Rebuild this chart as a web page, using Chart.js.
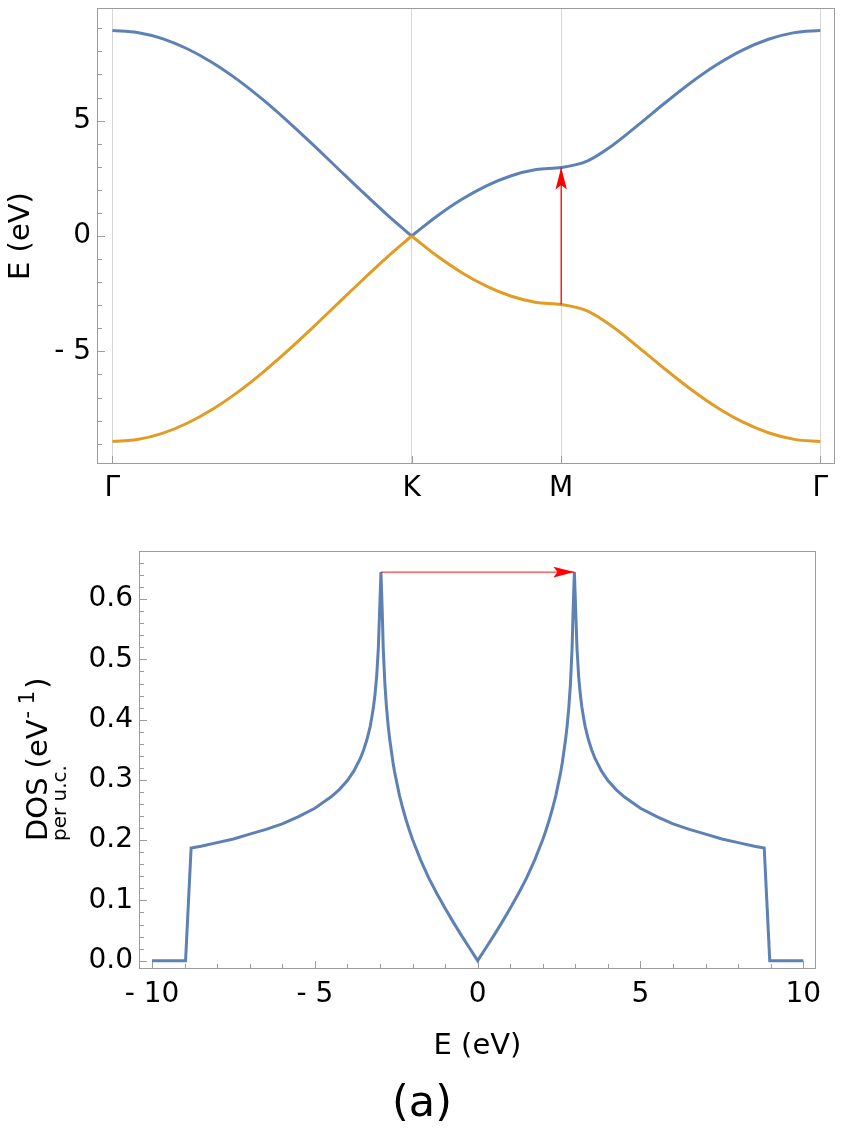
<!DOCTYPE html>
<html>
<head>
<meta charset="utf-8">
<title>Graphene bands and DOS</title>
<script src="https://cdn.jsdelivr.net/npm/chart.js@4.4.1/dist/chart.umd.min.js"></script>
<style>
    html, body { margin: 0; padding: 0; background: #fff; }
    #page { position: relative; width: 844px; height: 1132px; }
    #bandWrap { position: absolute; left: 0; top: 0; width: 844px; height: 530px; }
    #dosWrap { position: absolute; left: 0; top: 530px; width: 844px; height: 602px; }
</style>
</head>
<body>
<div id="page">
    <div id="bandWrap"><canvas id="bandChart" width="844" height="530"></canvas></div>
    <div id="dosWrap"><canvas id="dosChart" width="844" height="602"></canvas></div>
</div>
<script>
/* Data */

// high symmetry points along the path (path length, Γ = 0)
const kPointPos = [0, 1.3333, 2.0, 3.1547];
const kPointLabels = ["Γ", "K", "M", "Γ"];

// Γ -> K
const kGammaK = [0, 0.1111, 0.2222, 0.3333, 0.4444, 0.5556, 0.6667, 0.7778, 0.8889, 1.0, 1.1111, 1.2222, 1.3333];
const condGammaK = [8.91, 8.82, 8.552, 8.114, 7.52, 6.788, 5.94, 5.002, 4.002, 2.97, 1.939, 0.938, 0];
const valGammaK = [-8.91, -8.82, -8.552, -8.114, -7.52, -6.788, -5.94, -5.002, -4.002, -2.97, -1.939, -0.938, 0];

// K -> M -> Γ
const kKMGamma = [1.3333, 1.4444, 1.5556, 1.6667, 1.7778, 1.8889, 2.0, 2.1155, 2.2309, 2.3464, 2.4619, 2.5774, 2.6928, 2.8083, 2.9238, 3.0392, 3.1547];
const condKMGamma = [0, 0.848, 1.58, 2.174, 2.612, 2.88, 2.97, 3.248, 3.945, 4.834, 5.762, 6.641, 7.417, 8.053, 8.524, 8.813, 8.91];
const valKMGamma = [0, -0.848, -1.58, -2.174, -2.612, -2.88, -2.97, -3.248, -3.945, -4.834, -5.762, -6.641, -7.417, -8.053, -8.524, -8.813, -8.91];

// transition arrow at M
const bandArrowK = [2.0, 2.0];
const bandArrowE = [-2.97, 2.97];

const bandYTicks = [-5, 0, 5];

// density of states
const dosEnergy = [-10, -8.97, -8.8, -8.5, -8, -7.5, -7, -6.5, -6, -5.5, -5, -4.5, -4.25, -4, -3.8, -3.6, -3.5, -3.4,
    -3.3, -3.25, -3.2, -3.15, -3.1, -3.05, -2.97,
    -2.93, -2.9, -2.85, -2.8, -2.75, -2.7, -2.6, -2.55, -2.4, -2.3, -2.2, -2.1, -2, -1.75, -1.5, -1.25, -1, -0.75, -0.5, -0.25, 0,
    0.25, 0.5, 0.75, 1, 1.25, 1.5, 1.75, 2, 2.1, 2.2, 2.3, 2.4, 2.55, 2.6, 2.7, 2.75, 2.8, 2.85, 2.9, 2.93, 2.97,
    3.05, 3.1, 3.15, 3.2, 3.25, 3.3, 3.4, 3.5, 3.6, 3.8, 4, 4.25, 4.5, 5, 5.5, 6, 6.5, 7, 7.5, 8, 8.5, 8.8, 8.97, 10];
const dosValue = [0, 0, 0.187, 0.190, 0.196, 0.202, 0.210, 0.218, 0.227, 0.239, 0.253, 0.272, 0.284, 0.299, 0.315, 0.336, 0.350, 0.367,
    0.389, 0.404, 0.421, 0.443, 0.473, 0.519, 0.645,
    0.579, 0.519, 0.460, 0.421, 0.391, 0.367, 0.329, 0.313, 0.274, 0.253, 0.234, 0.217, 0.201, 0.167, 0.137, 0.111, 0.087, 0.064, 0.042, 0.021, 0,
    0.021, 0.042, 0.064, 0.087, 0.111, 0.137, 0.167, 0.201, 0.217, 0.234, 0.253, 0.274, 0.313, 0.329, 0.367, 0.391, 0.421, 0.460, 0.519, 0.579, 0.645,
    0.519, 0.473, 0.443, 0.421, 0.404, 0.389, 0.367, 0.350, 0.336, 0.315, 0.299, 0.284, 0.272, 0.253, 0.239, 0.227, 0.218, 0.210, 0.202, 0.196, 0.190, 0.187, 0, 0];

const dosArrowE = [-2.97, 2.97];
const dosArrowV = [0.645, 0.645];

const dosXTicks = [-10, -5, 0, 5, 10];
const dosYTicks = [0, 0.1, 0.2, 0.3, 0.4, 0.5, 0.6];

/* helpers */

const BLUE = "#5e81b5";
const ORANGE = "#e19c24";
const RED = "#ff0000";
const FRAME = "#9c9c9c";

const toPoints = (xs, ys) => xs.map((x, i) => ({ x: x, y: ys[i] }));
const range = (from, to, step) => {
    const out = [];
    for (let v = from; v <= to + step / 2; v += step) out.push(+v.toFixed(4));
    return out;
};
const minusLabel = v => (v < 0 ? "- " + Math.abs(v) : String(v));

// stop chart.js from reserving room for half labels at the axis ends
const noEdgePadding = scale => {
    scale.paddingTop = 0;
    scale.paddingBottom = 0;
    scale.paddingLeft = 0;
    scale.paddingRight = 0;
};

Chart.defaults.font.family = "'DejaVu Sans', sans-serif";
Chart.defaults.color = "#000";

/* frame with inward ticks, Mathematica style */
const frameTicks = {
    id: "frameTicks",
    beforeDatasetsDraw(chart, args, opts) {
        const { ctx, chartArea: area, scales } = chart;
        ctx.save();
        ctx.strokeStyle = FRAME;
        ctx.lineWidth = 1;
        const yTick = (v, len) => {
            const y = Math.round(scales.y.getPixelForValue(v)) + 0.5;
            ctx.beginPath();
            ctx.moveTo(area.left, y);
            ctx.lineTo(area.left + len, y);
            ctx.stroke();
        };
        const xTick = (v, len) => {
            const x = Math.round(scales.x.getPixelForValue(v)) + 0.5;
            ctx.beginPath();
            ctx.moveTo(x, area.bottom);
            ctx.lineTo(x, area.bottom - len);
            ctx.stroke();
        };
        opts.yMinor.forEach(v => yTick(v, 5));
        opts.yMajor.forEach(v => yTick(v, 8));
        opts.xMinor.forEach(v => xTick(v, 5));
        opts.xMajor.forEach(v => xTick(v, 8));
        ctx.strokeRect(Math.round(area.left) + 0.5, Math.round(area.top) + 0.5,
            Math.round(area.width) - 1, Math.round(area.height) - 1);
        ctx.restore();
    }
};

/* arrow head at the end of the first dataset */
const arrowHead = {
    id: "arrowHead",
    afterDatasetsDraw(chart, args, opts) {
        const { ctx, scales } = chart;
        const pts = chart.data.datasets[0].data;
        const a = pts[0], b = pts[pts.length - 1];
        const x0 = scales.x.getPixelForValue(a.x), y0 = scales.y.getPixelForValue(a.y);
        const x1 = scales.x.getPixelForValue(b.x), y1 = scales.y.getPixelForValue(b.y);
        const ang = Math.atan2(y1 - y0, x1 - x0);
        const len = opts.length, half = opts.half;
        ctx.save();
        ctx.translate(x1, y1);
        ctx.rotate(ang);
        ctx.fillStyle = RED;
        ctx.beginPath();
        ctx.moveTo(0, 0);
        ctx.lineTo(-len, -half);
        ctx.lineTo(-len * 0.8, 0);
        ctx.lineTo(-len, half);
        ctx.closePath();
        ctx.fill();
        ctx.restore();
    }
};

/* band structure */

new Chart(document.querySelector("#bandChart"), {
    type: "line",
    data: {
        datasets: [
            {
                data: toPoints(bandArrowK, bandArrowE),
                borderColor: RED,
                borderWidth: 1.3,
                pointRadius: 0
            },
            {
                data: toPoints(kGammaK, valGammaK),
                borderColor: ORANGE,
                borderWidth: 3,
                pointRadius: 0,
                cubicInterpolationMode: "monotone"
            },
            {
                data: toPoints(kKMGamma, valKMGamma),
                borderColor: ORANGE,
                borderWidth: 3,
                pointRadius: 0,
                cubicInterpolationMode: "monotone"
            },
            {
                data: toPoints(kGammaK, condGammaK),
                borderColor: BLUE,
                borderWidth: 3,
                pointRadius: 0,
                cubicInterpolationMode: "monotone"
            },
            {
                data: toPoints(kKMGamma, condKMGamma),
                borderColor: BLUE,
                borderWidth: 3,
                pointRadius: 0,
                cubicInterpolationMode: "monotone"
            }
        ]
    },
    options: {
        responsive: false,
        animation: false,
        layout: { padding: { left: 0, right: 9, top: 8, bottom: 0 } },
        plugins: {
            legend: { display: false },
            tooltip: { enabled: false },
            frameTicks: {
                yMajor: bandYTicks,
                yMinor: range(-9, 9, 1).filter(v => v % 5 !== 0),
                xMajor: kPointPos,
                xMinor: []
            },
            arrowHead: { length: 22, half: 5.7 }
        },
        scales: {
            x: {
                type: "linear",
                min: -0.0687,
                max: 3.2202,
                afterBuildTicks: scale => { scale.ticks = kPointPos.map(v => ({ value: v })); },
                afterFit: scale => { scale.height = 66; noEdgePadding(scale); },
                ticks: {
                    autoSkip: false,
                    maxRotation: 0,
                    padding: 8,
                    font: { size: 28 },
                    callback: (value, index) => kPointLabels[index]
                },
                grid: { color: "#d6d6d6", lineWidth: 1, drawTicks: false },
                border: { display: false }
            },
            y: {
                type: "linear",
                min: -9.88,
                max: 9.88,
                afterBuildTicks: scale => { scale.ticks = bandYTicks.map(v => ({ value: v })); },
                afterFit: scale => { scale.width = 97; noEdgePadding(scale); },
                ticks: {
                    padding: 6,
                    font: { size: 28 },
                    callback: value => minusLabel(value)
                },
                grid: { display: false, drawTicks: false },
                border: { display: false },
                title: {
                    display: true,
                    text: "E (eV)",
                    font: { size: 29 },
                    padding: { top: 4, bottom: 0 }
                }
            }
        }
    },
    plugins: [frameTicks, arrowHead]
});

/* density of states */

const dosLabels = {
    id: "dosLabels",
    afterDraw(chart) {
        const ctx = chart.ctx;
        ctx.save();
        ctx.fillStyle = "#000";
        ctx.textBaseline = "alphabetic";
        ctx.textAlign = "left";

        // DOS_per u.c. (eV^-1), rotated
        ctx.save();
        ctx.translate(46.5, 311);
        ctx.rotate(-Math.PI / 2);
        ctx.font = "29px 'DejaVu Sans'";
        ctx.fillText("DOS", 0, 0);
        let x = ctx.measureText("DOS").width;
        ctx.font = "20px 'DejaVu Sans'";
        ctx.fillText("per u.c.", 0, 19);
        ctx.font = "29px 'DejaVu Sans'";
        x += 9;
        ctx.fillText("(eV", x, 0);
        x += ctx.measureText("(eV").width;
        ctx.font = "21px 'DejaVu Sans'";
        ctx.fillText("- 1", x + 1, -13);
        x += 1 + ctx.measureText("- 1").width;
        ctx.font = "29px 'DejaVu Sans'";
        ctx.fillText(")", x + 2, 0);
        ctx.restore();

        // panel caption
        ctx.font = "43px 'DejaVu Sans'";
        ctx.textAlign = "center";
        ctx.fillText("(a)", 422, 586);
        ctx.restore();
    }
};

new Chart(document.querySelector("#dosChart"), {
    type: "line",
    data: {
        datasets: [
            {
                data: toPoints(dosArrowE, dosArrowV),
                borderColor: "rgba(255, 0, 0, 0.75)",
                borderWidth: 1.2,
                pointRadius: 0
            },
            {
                data: toPoints(dosEnergy, dosValue),
                borderColor: BLUE,
                borderWidth: 3,
                pointRadius: 0,
                tension: 0
            }
        ]
    },
    options: {
        responsive: false,
        animation: false,
        layout: { padding: { left: 0, right: 28, top: 21, bottom: 52 } },
        plugins: {
            legend: { display: false },
            tooltip: { enabled: false },
            frameTicks: {
                yMajor: dosYTicks,
                yMinor: range(0.02, 0.68, 0.02).filter(v => Math.abs(v * 10 - Math.round(v * 10)) > 0.01),
                xMajor: dosXTicks,
                xMinor: range(-10, 10, 1).filter(v => v % 5 !== 0)
            },
            arrowHead: { length: 21, half: 5.4 }
        },
        scales: {
            x: {
                type: "linear",
                min: -10.4,
                max: 10.39,
                afterBuildTicks: scale => { scale.ticks = dosXTicks.map(v => ({ value: v })); },
                afterFit: scale => { scale.height = 111; noEdgePadding(scale); },
                ticks: {
                    autoSkip: false,
                    maxRotation: 0,
                    padding: 9,
                    font: { size: 28 },
                    callback: value => minusLabel(value)
                },
                grid: { display: false, drawTicks: false },
                border: { display: false },
                title: {
                    display: true,
                    text: "E (eV)",
                    font: { size: 29 },
                    padding: { top: 0, bottom: 16 }
                }
            },
            y: {
                type: "linear",
                min: -0.0138,
                max: 0.68,
                afterBuildTicks: scale => { scale.ticks = dosYTicks.map(v => ({ value: v })); },
                afterFit: scale => { scale.width = 139; noEdgePadding(scale); },
                ticks: {
                    padding: 6,
                    font: { size: 28 },
                    callback: value => value.toFixed(1)
                },
                grid: { display: false, drawTicks: false },
                border: { display: false }
            }
        }
    },
    plugins: [frameTicks, arrowHead, dosLabels]
});
</script>
</body>
</html>
